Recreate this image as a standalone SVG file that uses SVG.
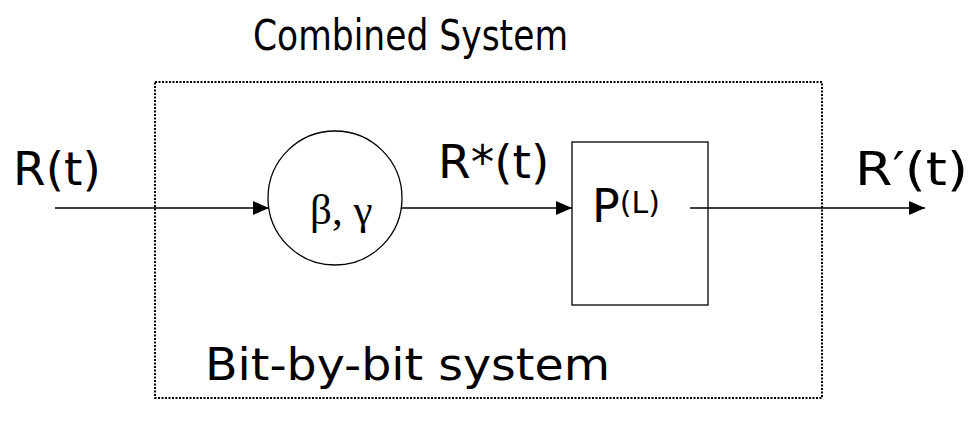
<svg xmlns="http://www.w3.org/2000/svg" width="973" height="421" viewBox="0 0 973 421">
<style>
.t{font-family:"DejaVu Sans","Noto Sans",sans-serif;fill:#000}
.g{font-family:"Liberation Serif","Times New Roman",serif;fill:#000}
.ln{stroke:#000;stroke-width:1.5;fill:none}
.sh{stroke:#000;stroke-width:1.3;fill:#fff}
</style>
<defs>
<marker id="ah" viewBox="0 0 16 14" refX="16" refY="7" markerWidth="16" markerHeight="14" markerUnits="userSpaceOnUse" orient="auto">
<path d="M0,0 L16,7 L0,14 Z" fill="#000"/>
</marker>
</defs>
<g id="title"><text class="t" x="253" y="50" font-size="42" textLength="315" lengthAdjust="spacingAndGlyphs">Combined System</text></g>
<g id="combined-box"><rect x="155" y="82" width="667" height="316" fill="none" stroke="#000" stroke-width="2" stroke-dasharray="2 1.5"/></g>
<g id="bit-label"><text class="t" x="205" y="380" font-size="44" textLength="405" lengthAdjust="spacingAndGlyphs">Bit-by-bit system</text></g>
<g id="circle-node"><circle class="sh" cx="335" cy="198" r="67"/><text class="g" x="310" y="224" font-size="43">β, γ</text></g>
<g id="p-node"><rect class="sh" x="572" y="142" width="136" height="163"/><text class="t" x="592" y="222" font-size="46">P<tspan font-size="30" dy="-9">(L)</tspan></text></g>
<g id="labels">
<text class="t" x="13" y="185" font-size="47">R(t)</text>
<text class="t" x="438" y="178" font-size="47">R*(t)</text>
<text class="t" x="855" y="185" font-size="47" textLength="113" lengthAdjust="spacingAndGlyphs">R′(t)</text>
</g>
<g id="connectors">
<line class="ln" x1="55" y1="208" x2="269" y2="208" marker-end="url(#ah)"/>
<line class="ln" x1="401" y1="208" x2="572" y2="208" marker-end="url(#ah)"/>
<line class="ln" x1="690" y1="208" x2="925" y2="208" marker-end="url(#ah)"/>
</g>
</svg>
